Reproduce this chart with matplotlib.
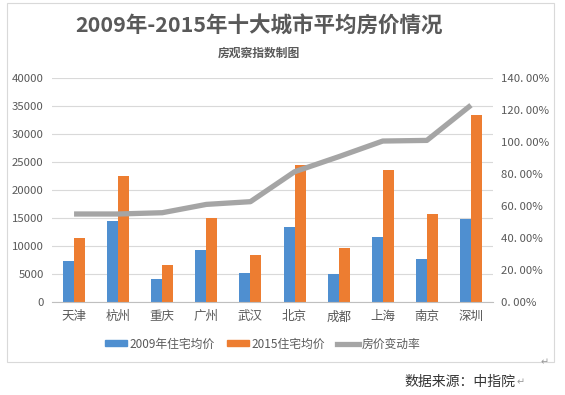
import numpy as np
import matplotlib
matplotlib.use('Agg')
import matplotlib.pyplot as plt
from matplotlib.patches import Patch, Rectangle
from matplotlib.lines import Line2D

plt.rcParams['font.family'] = ['Noto Sans CJK SC', 'DejaVu Sans']

cities = ['天津', '杭州', '重庆', '广州', '武汉', '北京', '成都', '上海', '南京', '深圳']
price_2009 = [7350, 14450, 4100, 9300, 5250, 13450, 5000, 11650, 7700, 14900]
price_2015 = [11450, 22500, 6600, 15000, 8400, 24400, 9650, 23600, 15700, 33400]
change_rate = [55.0, 55.0, 55.8, 61.0, 62.7, 81.4, 90.8, 100.6, 101.0, 123.0]
left_ticks = [0, 5000, 10000, 15000, 20000, 25000, 30000, 35000, 40000]
right_ticks = [0, 20, 40, 60, 80, 100, 120, 140]

blue = '#4f8fd0'
orange = '#ed7d31'
gray = '#a5a5a5'
txt = '#595959'

fig = plt.figure(figsize=(5.65, 3.95), dpi=100)
fig.patches.append(Rectangle((7 / 565, 1 - 362 / 395), 547 / 565, 359 / 395,
                             transform=fig.transFigure, fill=False,
                             edgecolor='#d9d9d9', linewidth=0.8))

ax = fig.add_axes([52 / 565, 1 - 302 / 395, 441 / 565, 224 / 395])
x = np.arange(len(cities))
w = 0.25
ax.bar(x - w / 2, price_2009, w, color=blue, zorder=2)
ax.bar(x + w / 2, price_2015, w, color=orange, zorder=2)
ax.set_xlim(-0.5, len(cities) - 0.5)
ax.set_ylim(0, 40000)
ax.set_yticks(left_ticks)
ax.set_yticklabels([str(v) for v in left_ticks], color=txt, fontsize=8.2)
ax.set_xticks(x)
ax.set_xticklabels(cities, color=txt, fontsize=9)
ax.tick_params(length=0, pad=6)
ax.grid(axis='y', color='#d9d9d9', linewidth=0.8, zorder=0)
for s in ['top', 'left', 'right']:
    ax.spines[s].set_visible(False)
ax.spines['bottom'].set_color('#bfbfbf')

ax2 = ax.twinx()
ax2.plot(x, change_rate, color=gray, linewidth=3.8, solid_capstyle='butt', zorder=3)
ax2.set_ylim(0, 140)
ax2.set_yticks(right_ticks)
ax2.set_yticklabels([f'{v:.2f}%'.replace('.', '. ') for v in right_ticks], color=txt, fontsize=8.2)
ax2.tick_params(length=0, pad=6)
for s in ['top', 'left', 'right', 'bottom']:
    ax2.spines[s].set_visible(False)

fig.text(0.459, 1 - 26 / 395, '2009年-2015年十大城市平均房价情况', ha='center', va='center',
         fontsize=15.5, fontweight='bold', color=txt)
fig.text(0.459, 1 - 53 / 395, '房观察指数制图', ha='center', va='center',
         fontsize=8.5, fontweight='bold', color=txt)

handles = [Patch(color=blue), Patch(color=orange), Line2D([], [], color=gray, linewidth=3.8)]
fig.legend(handles, ['2009年住宅均价', '2015住宅均价', '房价变动率'],
           loc='center', bbox_to_anchor=(0.465, 1 - 344 / 395), ncol=3, frameon=False,
           fontsize=8.5, handlelength=1.9, handleheight=0.45, columnspacing=1.0,
           handletextpad=0.2, labelcolor=txt)

fig.text(0.912, 1 - 382 / 395, '数据来源：中指院', ha='right', va='center',
         fontsize=10, color='#333333')
fig.text(0.914, 1 - 382 / 395, '↵', ha='left', va='center', fontsize=7, color='#999999',
         family=['DejaVu Sans'])
fig.text(0.957, 1 - 362 / 395, '↵', ha='left', va='center', fontsize=7, color='#999999',
         family=['DejaVu Sans'])

fig.savefig('out.png', dpi=100)
